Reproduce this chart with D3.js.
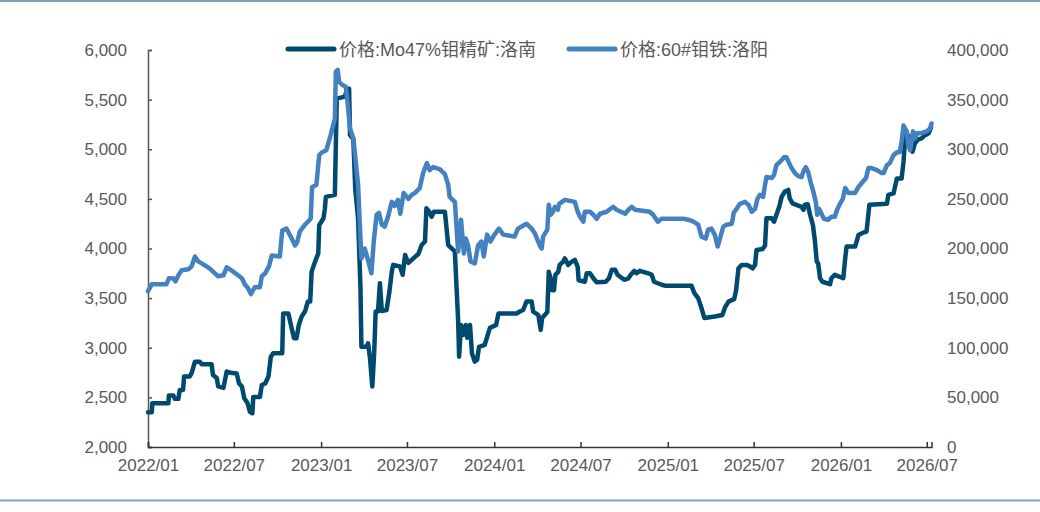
<!DOCTYPE html>
<html>
<head>
<meta charset="utf-8">
<script src="https://cdn.jsdelivr.net/npm/d3@7"></script>
<style>
  html, body { margin: 0; padding: 0; background: #fff; }
  svg text { font-family: "Liberation Sans", Arial, "Noto Sans CJK SC", sans-serif; fill: #595959; }
</style>
</head>
<body>
<div id="chart"></div>
<script>
// series names
const seriesNames = ["价格:Mo47%钼精矿:洛南", "价格:60#钼铁:洛阳"];

// 价格:Mo47%钼精矿:洛南 (left axis)
const moDates = [
  "2022-01-01","2022-01-09","2022-01-10","2022-02-13","2022-02-14","2022-02-23","2022-02-27","2022-03-06","2022-03-09","2022-03-16",
  "2022-03-18","2022-03-30","2022-04-03","2022-04-10","2022-04-20","2022-04-24","2022-05-15","2022-05-18","2022-05-26","2022-05-29",
  "2022-06-09","2022-06-16","2022-06-28","2022-07-07","2022-07-12","2022-07-18","2022-07-23","2022-07-30","2022-08-04","2022-08-09",
  "2022-08-11","2022-08-25","2022-08-29","2022-09-05","2022-09-12","2022-09-17","2022-09-22","2022-10-11","2022-10-13","2022-10-24",
  "2022-10-31","2022-11-05","2022-11-10","2022-11-15","2022-11-21","2022-11-28","2022-12-04","2022-12-09","2022-12-12","2022-12-19",
  "2022-12-26","2022-12-28","2023-01-06","2023-01-09","2023-01-11","2023-01-30","2023-02-03","2023-02-20","2023-02-25","2023-03-01",
  "2023-03-03","2023-03-10","2023-03-14","2023-03-20","2023-03-25","2023-03-27","2023-04-07","2023-04-10","2023-04-14",
  "2023-04-19","2023-04-23","2023-04-26","2023-05-01","2023-05-05","2023-05-09","2023-05-19","2023-05-25","2023-05-30","2023-06-02",
  "2023-06-16","2023-06-22","2023-06-27","2023-07-04","2023-07-11","2023-07-18","2023-07-25","2023-08-01","2023-08-08","2023-08-11",
  "2023-08-17","2023-08-22","2023-08-27","2023-09-19","2023-09-26","2023-10-10","2023-10-14","2023-10-17","2023-10-19","2023-10-23",
  "2023-10-28","2023-11-02","2023-11-05","2023-11-11","2023-11-15","2023-11-21","2023-11-26","2023-11-30","2023-12-12","2023-12-19",
  "2023-12-23","2024-01-05","2024-01-10","2024-02-17","2024-02-24","2024-03-02","2024-03-09","2024-03-20","2024-03-23","2024-04-03",
  "2024-04-08","2024-04-11","2024-04-22","2024-04-25","2024-04-29","2024-05-02","2024-05-06","2024-05-09","2024-05-15","2024-05-18",
  "2024-05-25","2024-05-29","2024-06-05","2024-06-12","2024-06-19","2024-06-25","2024-06-27","2024-07-10","2024-07-14","2024-07-21",
  "2024-07-28","2024-08-04","2024-08-23","2024-08-30","2024-09-05","2024-09-12","2024-09-17","2024-10-01","2024-10-10","2024-10-15",
  "2024-10-22","2024-10-27","2024-11-03","2024-11-21","2024-11-28","2024-12-03","2024-12-19","2024-12-26","2025-02-20","2025-02-26",
  "2025-03-06","2025-03-13","2025-03-19","2025-04-10","2025-04-26","2025-05-02","2025-05-09","2025-05-16","2025-05-21","2025-05-25",
  "2025-05-30","2025-06-06","2025-06-16","2025-06-23","2025-06-29","2025-07-04","2025-07-07","2025-07-20","2025-07-25","2025-07-28",
  "2025-08-08","2025-08-13","2025-08-18","2025-08-24","2025-08-29","2025-09-05","2025-09-12","2025-09-15","2025-09-21","2025-10-10",
  "2025-10-14","2025-10-17","2025-10-23","2025-10-28","2025-11-03","2025-11-07","2025-11-11","2025-11-14","2025-11-18","2025-11-23",
  "2025-12-09","2025-12-12","2025-12-19","2026-01-06","2026-01-10","2026-01-13","2026-01-31","2026-02-07","2026-02-17","2026-02-24",
  "2026-03-02","2026-04-08","2026-04-11","2026-04-22","2026-04-29","2026-05-09","2026-05-13","2026-05-16","2026-05-18","2026-05-23",
  "2026-05-27","2026-06-01","2026-06-06","2026-06-13","2026-06-20","2026-06-27","2026-07-05","2026-07-10"
];
const moValues = [
  2350,2350,2440,2440,2520,2520,2485,2485,2575,2575,
  2710,2710,2745,2860,2860,2835,2835,2725,2695,2610,
  2595,2760,2745,2740,2640,2610,2490,2440,2355,2340,
  2505,2505,2625,2640,2710,2910,2945,2945,3345,3345,
  3195,3095,3095,3230,3315,3365,3465,3465,3765,3865,
  3950,4235,4305,4405,4520,4540,5510,5530,5610,5610,
  5145,5100,4600,4300,3600,3010,3010,3045,2900,
  2610,2960,3365,3365,3650,3370,3380,3565,3765,3835,
  3820,3735,3935,3855,3885,3915,3945,4035,4070,4405,
  4370,4320,4370,4370,4035,3970,3565,3265,2910,3230,
  3130,3230,3100,3230,2945,2860,2880,3010,3030,3140,
  3200,3230,3345,3345,3365,3380,3465,3465,3365,3330,
  3180,3300,3360,3765,3700,3580,3580,3735,3765,3835,
  3865,3900,3835,3865,3885,3815,3680,3665,3750,3750,
  3700,3660,3665,3700,3785,3785,3735,3685,3700,3735,
  3775,3750,3775,3750,3735,3665,3635,3625,3625,3550,
  3500,3400,3300,3315,3330,3410,3465,3480,3490,3580,
  3800,3835,3835,3820,3800,3835,3985,3995,4030,4305,
  4305,4270,4340,4420,4520,4575,4590,4505,4455,4420,
  4390,4440,4445,4340,4235,4085,3870,3850,3700,3665,
  3640,3700,3735,3700,3900,4020,4020,4135,4160,4170,
  4440,4450,4540,4555,4705,4705,4875,5075,5160,5140,
  5075,4975,5060,5100,5110,5140,5160,5220
];

// 价格:60#钼铁:洛阳 (right axis)
const feDates = [
  "2022-01-01","2022-01-09","2022-02-09","2022-02-14","2022-02-23","2022-02-28","2022-03-06","2022-03-13","2022-03-27","2022-04-03",
  "2022-04-10","2022-04-17","2022-05-01","2022-05-11","2022-05-22","2022-05-29","2022-06-09","2022-06-16","2022-06-26","2022-07-07",
  "2022-07-18","2022-07-24","2022-07-31","2022-08-06","2022-08-14","2022-08-25","2022-08-29","2022-09-05","2022-09-13","2022-09-19",
  "2022-10-06","2022-10-11","2022-10-20","2022-10-31","2022-11-07","2022-11-12","2022-11-17","2022-11-28","2022-12-10","2022-12-13",
  "2022-12-22","2022-12-28","2023-01-03","2023-01-12","2023-01-21","2023-01-30","2023-02-01","2023-02-05","2023-02-08","2023-02-14",
  "2023-02-22","2023-02-25","2023-03-03","2023-03-10","2023-03-13","2023-03-20","2023-03-24","2023-03-27","2023-04-03","2023-04-10",
  "2023-04-17","2023-04-22","2023-04-28","2023-05-03","2023-05-09","2023-05-15","2023-05-22","2023-05-30","2023-06-05","2023-06-12",
  "2023-06-17","2023-06-24","2023-07-04","2023-07-11","2023-07-18","2023-07-28","2023-08-04","2023-08-12","2023-08-18","2023-08-25",
  "2023-09-08","2023-09-19","2023-09-26","2023-09-29","2023-10-10","2023-10-17","2023-10-20","2023-10-23","2023-10-29","2023-11-02",
  "2023-11-07","2023-11-12","2023-11-21","2023-11-28","2023-12-05","2023-12-10","2023-12-17","2023-12-24","2023-12-30","2024-01-06",
  "2024-01-11","2024-01-20","2024-02-13","2024-02-20","2024-03-09","2024-03-20","2024-03-27","2024-04-06","2024-04-10","2024-04-13",
  "2024-04-22","2024-04-25","2024-04-29","2024-05-04","2024-05-08","2024-05-14","2024-05-17","2024-05-29","2024-06-19","2024-06-25",
  "2024-06-30","2024-07-07","2024-07-10","2024-07-21","2024-07-28","2024-08-04","2024-08-11","2024-08-25","2024-09-08","2024-09-15",
  "2024-10-03","2024-10-10","2024-10-17","2024-10-24","2024-11-24","2024-12-01","2024-12-11","2024-12-19","2025-02-03","2025-02-13",
  "2025-02-24","2025-03-06","2025-03-13","2025-03-22","2025-03-27","2025-04-03","2025-04-10","2025-04-16","2025-04-21","2025-04-28",
  "2025-05-05","2025-05-16","2025-05-20","2025-05-26","2025-06-02","2025-06-13","2025-06-20","2025-06-27","2025-07-04","2025-07-09",
  "2025-07-14","2025-07-21","2025-07-25","2025-07-28","2025-08-08","2025-08-13","2025-08-18","2025-08-29","2025-09-03","2025-09-08",
  "2025-09-14","2025-09-19","2025-09-26","2025-10-03","2025-10-10","2025-10-15","2025-10-19","2025-10-24","2025-10-29","2025-11-04",
  "2025-11-09","2025-11-12","2025-11-16","2025-11-21","2025-11-26","2025-12-05","2025-12-12","2025-12-19","2025-12-24","2025-12-30",
  "2026-01-05","2026-01-10","2026-01-17","2026-01-31","2026-02-07","2026-02-14","2026-02-23","2026-02-28","2026-03-07","2026-03-18",
  "2026-03-28","2026-04-01","2026-04-08","2026-04-14","2026-04-22","2026-04-29","2026-05-05","2026-05-09","2026-05-13","2026-05-16",
  "2026-05-20","2026-05-23","2026-05-27","2026-05-30","2026-06-02","2026-06-06","2026-06-10","2026-06-17","2026-06-24","2026-07-01",
  "2026-07-08","2026-07-11"
];
const feValues = [
  157000,164000,164000,170000,170000,167000,173000,178000,179000,182000,
  192000,187000,183000,180000,175000,172000,173000,181000,178000,174000,
  170000,164000,160000,154000,161000,161000,172000,175000,182000,193000,
  192000,218000,220000,210000,203000,207000,217000,224000,230000,262000,
  264000,294000,297000,299000,314000,331000,378000,380000,368000,365000,
  363000,351000,321000,311000,297000,264000,220000,190000,200000,188000,
  175000,207000,234000,236000,224000,222000,232000,247000,243000,249000,
  235000,256000,250000,254000,256000,261000,276000,286000,279000,282000,
  280000,275000,264000,252000,247000,197000,213000,229000,195000,210000,
  203000,187000,185000,203000,207000,192000,214000,207000,212000,217000,
  220000,214000,212000,220000,225000,220000,215000,203000,200000,212000,
  219000,244000,234000,237000,242000,239000,245000,249000,247000,237000,
  232000,227000,237000,237000,234000,230000,235000,237000,242000,239000,
  235000,239000,242000,239000,237000,234000,227000,230000,230000,229000,
  227000,224000,212000,210000,219000,220000,214000,202000,210000,222000,
  224000,225000,236000,240000,245000,247000,244000,237000,240000,250000,
  254000,252000,264000,272000,271000,274000,284000,289000,292000,292000,
  286000,281000,276000,273000,272000,279000,282000,277000,267000,257000,
  247000,234000,240000,235000,230000,229000,232000,232000,239000,245000,
  250000,261000,256000,256000,262000,266000,271000,281000,281000,279000,
  276000,276000,284000,286000,294000,297000,297000,308000,324000,321000,
  318000,304000,299000,308000,318000,311000,316000,316000,317000,318000,
  321000,326000
];

const leftTicks = [2000, 2500, 3000, 3500, 4000, 4500, 5000, 5500, 6000];
const rightTicks = [0, 50000, 100000, 150000, 200000, 250000, 300000, 350000, 400000];
const xTickDates = ["2022-01-01","2022-07-01","2023-01-01","2023-07-01","2024-01-01","2024-07-01",
                    "2025-01-01","2025-07-01","2026-01-01","2026-07-01"];

const width = 1040, height = 512;
const darkColor = "#004a70", lightColor = "#4381c1";
const parse = d3.timeParse("%Y-%m-%d");

const moData = moDates.map((d, i) => ({ date: parse(d), value: moValues[i] }));
const feData = feDates.map((d, i) => ({ date: parse(d), value: feValues[i] }));

const svg = d3.select("#chart").append("svg")
  .attr("width", width)
  .attr("height", height);

// frame lines top and bottom
svg.append("line").attr("x1", 0).attr("x2", width).attr("y1", 1).attr("y2", 1)
  .attr("stroke", "#7fa3b9").attr("stroke-width", 2);
svg.append("line").attr("x1", 0).attr("x2", width).attr("y1", 500.5).attr("y2", 500.5)
  .attr("stroke", "#7fa3b9").attr("stroke-width", 2);

const x = d3.scaleTime()
  .domain([parse("2022-01-01"), parse("2026-07-11")])
  .range([148, 931.5]);
const yL = d3.scaleLinear().domain([2000, 6000]).range([447, 50]);
const yR = d3.scaleLinear().domain([0, 400000]).range([447, 50]);

// left axis
const gL = svg.append("g")
  .attr("transform", "translate(148,0)")
  .call(d3.axisLeft(yL).tickValues(leftTicks).tickSize(-4).tickPadding(21)
    .tickFormat(d3.format(",")));
gL.select(".domain").attr("stroke", "#555").attr("stroke-width", 1.5);
gL.selectAll(".tick line").attr("stroke", "#555").attr("stroke-width", 1.5);
gL.selectAll("text").style("font-size", "17px");

// right axis (labels only)
const gR = svg.append("g")
  .attr("transform", "translate(932,0)")
  .call(d3.axisRight(yR).tickValues(rightTicks).tickSize(0).tickPadding(15)
    .tickFormat(d3.format(",")));
gR.select(".domain").remove();
gR.selectAll("text").style("font-size", "17px");

// bottom axis
const gX = svg.append("g")
  .attr("transform", "translate(0,447)")
  .call(d3.axisBottom(x).tickValues(xTickDates.map(parse)).tickSize(-5).tickPadding(12)
    .tickFormat(d3.timeFormat("%Y/%m")));
gX.select(".domain").attr("stroke", "#333").attr("stroke-width", 1.5);
gX.selectAll(".tick line").attr("stroke", "#333").attr("stroke-width", 1.5);
gX.selectAll("text").style("font-size", "17px");

// lines
const lineL = d3.line().x(d => x(d.date)).y(d => yL(d.value));
const lineR = d3.line().x(d => x(d.date)).y(d => yR(d.value));

svg.append("path")
  .datum(moData)
  .attr("fill", "none")
  .attr("stroke", darkColor)
  .attr("stroke-width", 4.5)
  .attr("stroke-linejoin", "round")
  .attr("stroke-linecap", "round")
  .attr("d", lineL);

svg.append("path")
  .datum(feData)
  .attr("fill", "none")
  .attr("stroke", lightColor)
  .attr("stroke-width", 4.5)
  .attr("stroke-linejoin", "round")
  .attr("stroke-linecap", "round")
  .attr("d", lineR);

// legend
const legend = [
  { name: seriesNames[0], color: darkColor, x: 288 },
  { name: seriesNames[1], color: lightColor, x: 569 }
];
legend.forEach(l => {
  svg.append("line")
    .attr("x1", l.x).attr("x2", l.x + 46)
    .attr("y1", 49).attr("y2", 49)
    .attr("stroke", l.color).attr("stroke-width", 5).attr("stroke-linecap", "round");
  svg.append("text")
    .attr("x", l.x + 51).attr("y", 55.5)
    .style("font-size", "18px")
    .text(l.name);
});
</script>
</body>
</html>
